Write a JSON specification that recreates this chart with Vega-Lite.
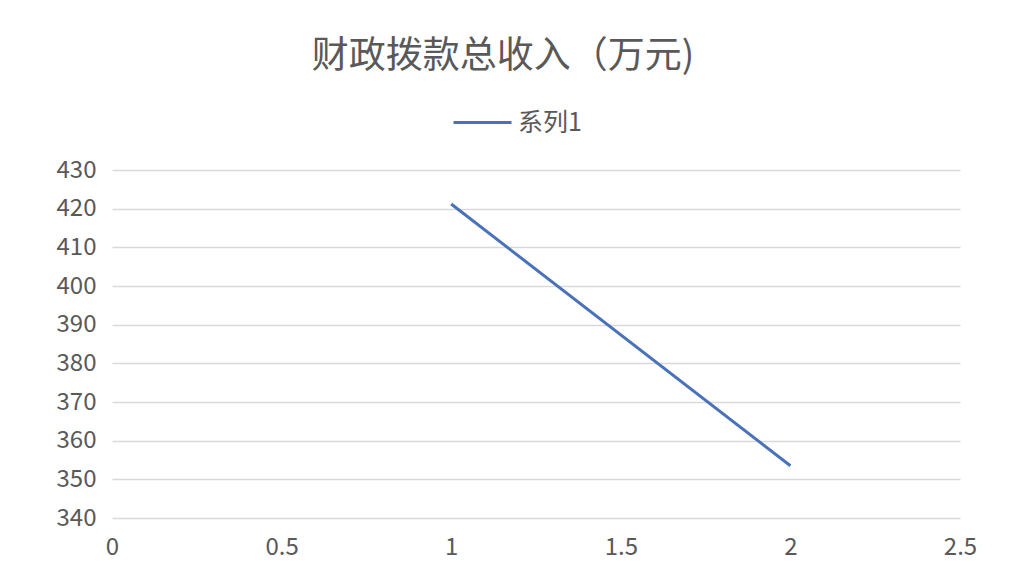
{
  "$schema": "https://vega.github.io/schema/vega-lite/v6.json",
  "width": 848,
  "height": 348,
  "autosize": {"type": "none"},
  "padding": {"left": 112, "top": 170, "right": 50, "bottom": 63},
  "background": "white",
  "config": {
    "view": {"stroke": null},
    "font": "Noto Sans CJK SC"
  },
  "title": {
    "text": "财政拨款总收入（万元)",
    "fontSize": 37,
    "fontWeight": "normal",
    "color": "#595959",
    "anchor": "middle",
    "offset": 16,
    "dx": -33
  },
  "data": {
    "values": [
      {"x": 1, "y": 421.2, "series": "系列1"},
      {"x": 2, "y": 353.5, "series": "系列1"}
    ]
  },
  "mark": {"type": "line", "strokeWidth": 3},
  "encoding": {
    "x": {
      "field": "x",
      "type": "quantitative",
      "scale": {"domain": [0, 2.5], "nice": false, "zero": false},
      "axis": {
        "title": null,
        "values": [0, 0.5, 1, 1.5, 2, 2.5],
        "format": "~g",
        "grid": false,
        "domain": false,
        "ticks": false,
        "labelFontSize": 24,
        "labelColor": "#595959",
        "labelPadding": 17,
        "labelFlush": false
      }
    },
    "y": {
      "field": "y",
      "type": "quantitative",
      "scale": {"domain": [340, 430], "nice": false, "zero": false},
      "axis": {
        "title": null,
        "values": [340, 350, 360, 370, 380, 390, 400, 410, 420, 430],
        "grid": true,
        "gridColor": "#d9d9d9",
        "gridWidth": 1.5,
        "domain": false,
        "ticks": false,
        "labelFontSize": 24,
        "labelColor": "#595959",
        "labelPadding": 16
      }
    },
    "color": {
      "field": "series",
      "type": "nominal",
      "scale": {"range": ["#4a72b8"]},
      "legend": {
        "title": null,
        "orient": "none",
        "legendX": 340,
        "legendY": -78,
        "symbolType": "stroke",
        "symbolSize": 3364,
        "symbolStrokeWidth": 3,
        "labelFontSize": 25,
        "labelColor": "#595959",
        "labelOffset": 5
      }
    }
  }
}
